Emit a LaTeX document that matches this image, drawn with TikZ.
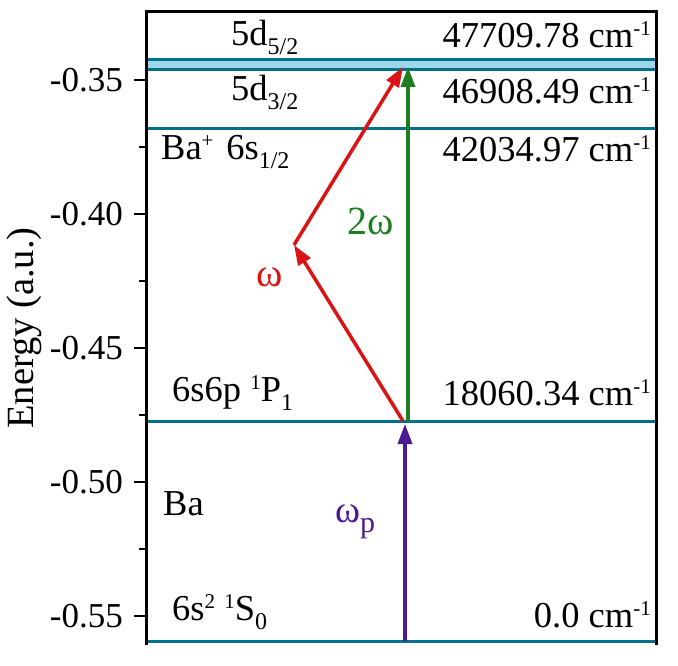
\documentclass[tikz,border=0pt]{standalone}
\usepackage{fontspec}
\setmainfont{Liberation Serif}
\usetikzlibrary{arrows.meta}
\definecolor{teallvl}{RGB}{0,112,137}
\definecolor{bandblue}{RGB}{155,215,232}
\definecolor{redarr}{RGB}{218,20,20}
\definecolor{greenarr}{RGB}{30,125,30}
\definecolor{purplearr}{RGB}{75,25,145}
\newcommand\mysub[1]{\raisebox{-9pt}{\fontsize{24}{24}\selectfont #1}}
\newcommand\mysup[1]{\raisebox{12pt}{\fontsize{21}{21}\selectfont #1}}
\begin{document}
\begin{tikzpicture}[x=1pt,y=-1pt,
  level/.style={line width=3pt, draw=teallvl},
  lbl/.style={font=\fontsize{36.5}{40}\selectfont, inner sep=0pt},
  ticklbl/.style={font=\fontsize{35}{40}\selectfont, inner sep=0pt, anchor=east},
  majtick/.style={line width=2.5pt},
  arr/.style={line width=3.5pt, -{Triangle[length=20pt,width=14pt]}}]
\useasboundingbox (0,0) rectangle (678,666);
% band between 5d levels
\fill[bandblue] (146,60) rectangle (656,70);
% level coordinates
\coordinate (d5L) at (146,60);  \coordinate (d5R) at (656,60);
\coordinate (d3L) at (146,70);  \coordinate (d3R) at (656,70);
\coordinate (s1L) at (146,129); \coordinate (s1R) at (656,129);
\coordinate (pL)  at (146,421); \coordinate (pR)  at (656,421);
\coordinate (gL)  at (146,641); \coordinate (gR)  at (656,641);
\draw[level] (d5L) -- (d5R);
\draw[level] (d3L) -- (d3R);
\draw[level] (s1L) -- (s1R);
\draw[level] (pL) -- (pR);
\draw[level] (gL) -- (gR);
% frame
\coordinate (fBL) at (146,645); \coordinate (fTL) at (146,12);
\coordinate (fTR) at (656,12);  \coordinate (fBR) at (656,645);
\draw[line width=3pt, line join=miter] (fBL) -- (fTL) -- (fTR) -- (fBR);
% ticks
\foreach \y in {80,214,348,482,616} \draw[majtick] (134,\y) -- (146,\y);
\foreach \y in {147,281,415,549} \draw[majtick] (139,\y) -- (146,\y);
\node[ticklbl] (t35) at (123,80) {-0.35};
\node[ticklbl] (t40) at (123,214) {-0.40};
\node[ticklbl] (t45) at (123,348) {-0.45};
\node[ticklbl] (t50) at (123,482) {-0.50};
\node[ticklbl] (t55) at (123,616) {-0.55};
\node[font=\fontsize{38.5}{40}\selectfont, inner sep=0pt, rotate=90] (ylab) at (24,328) {Energy (a.u.)};
% arrows
\coordinate (pA) at (405,641); \coordinate (pB) at (405,424);
\coordinate (gA) at (408,421); \coordinate (gB) at (408,67);
\coordinate (rA) at (403,421); \coordinate (rV) at (294,245); \coordinate (rT) at (403,67);
\draw[arr, purplearr] (pA) -- (pB);
\draw[arr, greenarr] (gA) -- (gB);
\draw[arr, redarr] (rA) -- (rV);
\draw[arr, redarr] (rV) -- (rT);
% labels
\node[lbl, anchor=base west] (n5d52) at (231,46) {5d\mysub{5/2}};
\node[lbl, anchor=base east] (e5d52) at (651,48) {47709.78 cm\mysup{-1}};
\node[lbl, anchor=base west] (n5d32) at (231,101) {5d\mysub{3/2}};
\node[lbl, anchor=base east] (e5d32) at (651,104) {46908.49 cm\mysup{-1}};
\node[lbl, anchor=base west] (n6s) at (161,160) {Ba\mysup{+}\hspace{0.35em}6s\mysub{1/2}};
\node[lbl, anchor=base east] (e6s) at (651,162) {42034.97 cm\mysup{-1}};
\node[lbl, anchor=base west] (n6p) at (172,401) {6s6p \mysup{1}P\mysub{1}};
\node[lbl, anchor=base east] (e6p) at (651,405) {18060.34 cm\mysup{-1}};
\node[lbl, anchor=base west] (nBa) at (163,515) {Ba};
\node[lbl, anchor=base west] (ngs) at (172,620) {6s\mysup{2} \mysup{1}S\mysub{0}};
\node[lbl, anchor=base east] (egs) at (651,627) {0.0 cm\mysup{-1}};
\node[lbl, anchor=base west, text=greenarr, font=\fontsize{40}{40}\selectfont] (w2) at (347,235) {2ω};
\node[lbl, anchor=base west, text=redarr, font=\fontsize{40}{40}\selectfont] (w1) at (256,287) {ω};
\node[lbl, anchor=base west, text=purplearr, font=\fontsize{38}{40}\selectfont] (wp) at (335,522) {ω\raisebox{-10pt}{\fontsize{30}{30}\selectfont p}};
\end{tikzpicture}
\end{document}
